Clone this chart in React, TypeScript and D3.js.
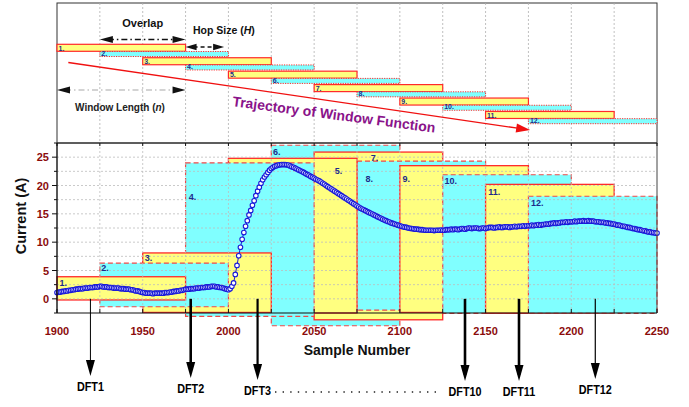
import React, { useEffect, useRef } from 'react';
import * as d3 from 'd3';

// current trace, one value per sample starting at 1900
const sampleStart = 1900;
const currentValues = [
  1.1, 1.2, 1.2, 1.3, 1.3, 1.4, 1.4, 1.5, 1.5, 1.6, 1.6, 1.7, 1.7, 1.8, 1.8, 1.8, 1.9, 1.9, 1.9, 2.0, 2.0, 2.0, 2.1, 2.1, 2.1, 2.2,
  2.2, 2.1, 2.1, 2.1, 2.0, 2.0, 2.0, 1.9, 1.9, 1.9, 1.9, 1.8, 1.8, 1.8, 1.7, 1.7, 1.7, 1.6, 1.6, 1.5, 1.4, 1.4, 1.3, 1.2, 1.1,
  1.1, 1.0, 1.0, 1.0, 1.0, 0.9, 1.0, 1.0, 1.0, 1.0, 1.0, 1.0, 1.1, 1.1, 1.1, 1.2, 1.2, 1.3, 1.3, 1.4, 1.4, 1.5, 1.5, 1.6, 1.7,
  1.7, 1.7, 1.8, 1.8, 1.8, 1.9, 1.9, 1.9, 2.0, 2.0, 2.0, 2.1, 2.1, 2.1, 2.2, 2.2, 2.2, 2.1, 2.1, 2.0, 2.0, 1.9, 1.8, 1.7, 1.6,
  1.8, 2.2, 2.8, 4.3, 5.9, 7.6, 9.1, 10.5, 11.7, 12.8, 13.8, 14.8, 15.6, 16.5, 17.3, 18.2, 19.0, 19.7, 20.4, 21.0, 21.5, 21.9, 22.3, 22.7, 23.0,
  23.2, 23.4, 23.5, 23.6, 23.65, 23.7, 23.7, 23.7, 23.65, 23.6, 23.45, 23.3, 23.2, 23.05, 22.9, 22.75, 22.6, 22.45, 22.3, 22.1, 21.95, 21.8, 21.6, 21.45, 21.3,
  21.1, 20.95, 20.8, 20.6, 20.4, 20.2, 20.0, 19.8, 19.6, 19.4, 19.2, 19.0, 18.8, 18.6, 18.4, 18.2, 18.0, 17.8, 17.6, 17.4, 17.2, 17.0, 16.8, 16.6, 16.4,
  16.2, 16.0, 15.85, 15.7, 15.55, 15.4, 15.25, 15.1, 14.95, 14.8, 14.65, 14.5, 14.35, 14.2, 14.05, 13.9, 13.8, 13.65, 13.55, 13.4, 13.3, 13.2, 13.1, 13.0, 12.9,
  12.8, 12.7, 12.65, 12.6, 12.5, 12.45, 12.4, 12.35, 12.3, 12.3, 12.25, 12.2, 12.2, 12.15, 12.1, 12.1, 12.1, 12.1, 12.1, 12.05, 12.1, 12.1, 12.1, 12.15, 12.1,
  12.1, 12.2, 12.2, 12.2, 12.3, 12.2, 12.3, 12.3, 12.2, 12.3, 12.4, 12.4, 12.3, 12.4, 12.5, 12.5, 12.4, 12.5, 12.5, 12.5, 12.4, 12.4, 12.5, 12.5, 12.4,
  12.5, 12.6, 12.6, 12.6, 12.5, 12.6, 12.6, 12.7, 12.6, 12.6, 12.7, 12.7, 12.7, 12.6, 12.7, 12.7, 12.8, 12.7, 12.8, 12.8, 12.8, 12.9, 12.8, 12.9, 12.9,
  12.9, 13.0, 12.9, 13.0, 13.0, 13.1, 13.0, 13.1, 13.1, 13.2, 13.2, 13.2, 13.3, 13.3, 13.4, 13.3, 13.4, 13.4, 13.5, 13.5, 13.5, 13.6, 13.5, 13.6, 13.6,
  13.6, 13.7, 13.6, 13.7, 13.7, 13.7, 13.8, 13.7, 13.7, 13.8, 13.7, 13.7, 13.7, 13.6, 13.6, 13.6, 13.5, 13.5, 13.5, 13.4, 13.4, 13.3, 13.3, 13.2, 13.2,
  13.1, 13.0, 13.0, 12.9, 12.8, 12.8, 12.7, 12.6, 12.6, 12.5, 12.4, 12.4, 12.3, 12.2, 12.2, 12.1, 12.0, 12.0, 11.9, 11.8, 11.8, 11.7, 11.7, 11.6, 11.6,
];

// sliding windows
const windowIds = [1, 2, 3, 4, 5, 6, 7, 8, 9, 10, 11, 12];
const windowStarts = [1900, 1925, 1950, 1975, 2000, 2025, 2050, 2075, 2100, 2125, 2150, 2175];
const windowLength = 75;
const windowTops = [3.9, 6.3, 8.1, 24.0, 24.8, 27.1, 25.9, 24.3, 23.5, 21.9, 20.2, 18.1];
const windowBottoms = [-0.2, -1.4, -2.4, -3.1, -2.5, -4.75, -3.7, -2.0, -2.4, -2.55, -2.55, -2.55];
const drawOrder = [6, 7, 8, 9, 10, 11, 12, 5, 4, 3, 2, 1];
const labelSamples = [1901.5, 1925.8, 1951.2, 1976.8, 2062, 2026, 2083, 2080, 2101.5, 2126, 2151.5, 2176.5];
const labelValues = [2.2, 4.85, 6.6, 17.4, 22.1, 25.3, 24.4, 20.7, 20.7, 20.2, 18.3, 16.3];

const xTickValues = [1900, 1950, 2000, 2050, 2100, 2150, 2200, 2250];
const yTickValues = [0, 5, 10, 15, 20, 25];

const dftNames = ['DFT1', 'DFT2', 'DFT3', 'DFT10', 'DFT11', 'DFT12'];
const dftSamples = [1919.5, 1978, 2017, 2138, 2169.5, 2214];

const FONT = '"Liberation Sans", Arial, Helvetica, sans-serif';
const YELLOW = '#ffff80';
const CYAN = '#80ffff';
const RED = '#ff2a2a';
const TICK_RED = '#8b0b0b';
const NAVY = '#1d2a8a';

const W = 689;
const H = 407;
const left = 57;
const right = 657;
const plotTop = 143;
const plotBottom = 313;
const panelTop = 3;

const App = () => {
  const svgRef = useRef(null);

  useEffect(() => {
    const svg = d3.select(svgRef.current);
    svg.selectAll('*').remove();

    const x = d3.scaleLinear().domain([1900, 2250]).range([left, right]);
    const y = d3.scaleLinear().domain([-2.5, 27.5]).range([plotBottom, plotTop]);
    const row = d3.scaleLinear().domain([1, 12]).range([44.3, 118.2]);

    const head = (g, tipX, tipY, dir, len, half, color) => {
      // dir: 'l','r','d'
      let p;
      if (dir === 'l') p = [[tipX, tipY], [tipX + len, tipY - half], [tipX + len, tipY + half]];
      else if (dir === 'r') p = [[tipX, tipY], [tipX - len, tipY - half], [tipX - len, tipY + half]];
      else p = [[tipX, tipY], [tipX - half, tipY - len], [tipX + half, tipY - len]];
      g.append('path').attr('d', d3.line()(p) + 'Z').attr('fill', color);
    };

    // ---------- top panel ----------
    const top = svg.append('g');
    top.append('rect').attr('x', left).attr('y', panelTop).attr('width', right - left).attr('height', plotTop - panelTop)
      .attr('fill', 'white').attr('stroke', '#333').attr('stroke-width', 1);

    d3.range(1925, 2250, 25).forEach(s => {
      top.append('line').attr('x1', x(s)).attr('x2', x(s)).attr('y1', panelTop).attr('y2', plotTop)
        .attr('stroke', '#b0b0b0').attr('stroke-dasharray', '2,2').attr('stroke-width', 0.8);
    });

    // trajectory arrow
    const t0 = [x(1906.6), 62.5];
    const t1 = [x(2176), 130];
    const ang = Math.atan2(t1[1] - t0[1], t1[0] - t0[0]);
    top.append('line').attr('x1', t0[0]).attr('y1', t0[1])
      .attr('x2', t1[0] - 11 * Math.cos(ang)).attr('y2', t1[1] - 11 * Math.sin(ang))
      .attr('stroke', '#f01010').attr('stroke-width', 1.3);
    top.append('path')
      .attr('d', d3.line()([[0, 0], [-14, -4.5], [-14, 4.5]]) + 'Z')
      .attr('transform', `translate(${t1[0]},${t1[1]}) rotate(${ang * 180 / Math.PI})`)
      .attr('fill', '#f01010');

    windowIds.forEach((id, i) => {
      const odd = id % 2 === 1;
      const h = odd ? 7 : 5;
      const yy = row(id) + (odd ? 0 : 0.5);
      top.append('rect').attr('x', x(windowStarts[i])).attr('y', yy)
        .attr('width', x(windowStarts[i] + windowLength) - x(windowStarts[i])).attr('height', h)
        .attr('fill', odd ? YELLOW : CYAN)
        .attr('stroke', RED).attr('stroke-width', odd ? 1.2 : 1)
        .attr('stroke-dasharray', odd ? null : '1.2,1.2');
      top.append('text').attr('x', x(windowStarts[i]) + 1.5).attr('y', yy + h - 0.8)
        .attr('font-family', FONT).attr('font-size', 7).attr('font-weight', 'bold').attr('fill', NAVY)
        .text(`${id}.`);
    });

    // overlap
    const oy = 39.5;
    top.append('line').attr('x1', x(1925) + 8).attr('x2', x(1975) - 8).attr('y1', oy).attr('y2', oy)
      .attr('stroke', '#111').attr('stroke-width', 1.3).attr('stroke-dasharray', '6,3,1.5,3');
    head(top, x(1925), oy, 'l', 13, 3.5, '#111');
    head(top, x(1975), oy, 'r', 13, 3.5, '#111');
    top.append('text').attr('x', x(1950)).attr('y', 27).attr('text-anchor', 'middle')
      .attr('font-family', FONT).attr('font-size', 11).attr('font-weight', 'bold').attr('fill', '#111').text('Overlap');

    // hop size
    const hy = 47;
    top.append('line').attr('x1', x(1975) + 8).attr('x2', x(1997.5) - 8).attr('y1', hy).attr('y2', hy)
      .attr('stroke', '#111').attr('stroke-width', 1.3).attr('stroke-dasharray', '4,3');
    head(top, x(1975), hy, 'l', 11, 3.2, '#111');
    head(top, x(1997.5), hy, 'r', 11, 3.2, '#111');
    const hop = top.append('text').attr('x', 193).attr('y', 34)
      .attr('font-family', FONT).attr('font-size', 10.5).attr('font-weight', 'bold').attr('fill', '#111');
    hop.append('tspan').text('Hop Size (');
    hop.append('tspan').attr('font-style', 'italic').text('H');
    hop.append('tspan').text(')');

    // window length
    const wy = 90;
    top.append('line').attr('x1', x(1900) + 8).attr('x2', x(1975) - 8).attr('y1', wy).attr('y2', wy)
      .attr('stroke', '#a8a8a8').attr('stroke-width', 1.2).attr('stroke-dasharray', '6,3,1.5,3');
    head(top, x(1900), wy, 'l', 13, 3.5, '#111');
    head(top, x(1975), wy, 'r', 13, 3.5, '#111');
    const wl = top.append('text').attr('x', 120).attr('y', 111).attr('text-anchor', 'middle')
      .attr('font-family', FONT).attr('font-size', 10).attr('font-weight', 'bold').attr('fill', '#222');
    wl.append('tspan').text('Window Length (');
    wl.append('tspan').attr('font-style', 'italic').text('n');
    wl.append('tspan').text(')');

    top.append('text').attr('transform', 'translate(232,106) rotate(7.5)')
      .attr('font-family', FONT).attr('font-size', 14).attr('font-weight', 'bold').attr('fill', '#8a138a')
      .text('Trajectory of Window Function');

    // ---------- bottom panel ----------
    const bot = svg.append('g');
    drawOrder.forEach(id => {
      const i = id - 1;
      const odd = id % 2 === 1;
      bot.append('rect').attr('x', x(windowStarts[i])).attr('y', y(windowTops[i]))
        .attr('width', x(windowStarts[i] + windowLength) - x(windowStarts[i]))
        .attr('height', y(windowBottoms[i]) - y(windowTops[i]))
        .attr('fill', odd ? YELLOW : CYAN)
        .attr('stroke', odd ? RED : '#f04848').attr('stroke-width', odd ? 1.3 : 1.2)
        .attr('stroke-dasharray', odd ? null : '5,3');
    });

    // grid on top of the windows
    d3.range(-2.5, 27.6, 2.5).forEach(v => {
      if (v <= -2.5 || v >= 27.5) return;
      bot.append('line').attr('x1', left).attr('x2', right).attr('y1', y(v)).attr('y2', y(v))
        .attr('stroke', '#bdbdbd').attr('stroke-dasharray', '2,2').attr('stroke-width', 0.8);
    });
    d3.range(1925, 2250, 25).forEach(s => {
      bot.append('line').attr('x1', x(s)).attr('x2', x(s)).attr('y1', plotTop).attr('y2', plotBottom)
        .attr('stroke', '#bdbdbd').attr('stroke-dasharray', '2,2').attr('stroke-width', 0.8);
    });

    windowIds.forEach((id, i) => {
      bot.append('text').attr('x', x(labelSamples[i])).attr('y', y(labelValues[i]))
        .attr('font-family', FONT).attr('font-size', 9).attr('font-weight', 'bold').attr('fill', NAVY)
        .text(`${id}.`);
    });

    // current trace
    const pts = currentValues.map((v, i) => [sampleStart + i, v]);
    bot.append('path').attr('d', d3.line().x(d => x(d[0])).y(d => y(d[1]))(pts))
      .attr('fill', 'none').attr('stroke', '#1a1ad8').attr('stroke-width', 1);
    bot.selectAll('circle.pt').data(pts).enter().append('circle')
      .attr('cx', d => x(d[0])).attr('cy', d => y(d[1])).attr('r', 2.3)
      .attr('fill', 'white').attr('stroke', '#1a1ad8').attr('stroke-width', 1.1);

    // frame and axes
    bot.append('line').attr('x1', left).attr('x2', right).attr('y1', plotTop).attr('y2', plotTop).attr('stroke', '#222');
    bot.append('line').attr('x1', right).attr('x2', right).attr('y1', plotTop).attr('y2', plotBottom).attr('stroke', '#444');
    bot.append('line').attr('x1', left).attr('x2', right).attr('y1', plotBottom).attr('y2', plotBottom).attr('stroke', '#111').attr('stroke-width', 1.2);
    bot.append('line').attr('x1', left).attr('x2', left).attr('y1', plotTop).attr('y2', plotBottom).attr('stroke', '#111').attr('stroke-width', 1.4);

    d3.range(1900, 2251, 25).forEach(s => {
      bot.append('line').attr('x1', x(s)).attr('x2', x(s)).attr('y1', plotBottom).attr('y2', plotBottom - 4).attr('stroke', '#111');
      bot.append('line').attr('x1', x(s)).attr('x2', x(s)).attr('y1', plotTop).attr('y2', plotTop + 3).attr('stroke', '#111');
    });
    d3.range(-2.5, 27.6, 2.5).forEach(v => {
      const major = Math.abs(v % 5) < 0.01;
      bot.append('line').attr('x1', left).attr('x2', left - (major ? 5 : 3)).attr('y1', y(v)).attr('y2', y(v)).attr('stroke', '#111');
    });

    xTickValues.forEach(s => {
      bot.append('text').attr('x', x(s)).attr('y', 335).attr('text-anchor', 'middle')
        .attr('font-family', FONT).attr('font-size', 11).attr('font-weight', 'bold').attr('fill', TICK_RED).text(s);
    });
    yTickValues.forEach(v => {
      bot.append('text').attr('x', 49).attr('y', y(v) + 4).attr('text-anchor', 'end')
        .attr('font-family', FONT).attr('font-size', 11).attr('font-weight', 'bold').attr('fill', TICK_RED).text(v);
    });

    bot.append('text').attr('transform', 'translate(26,216) rotate(-90)').attr('text-anchor', 'middle')
      .attr('font-family', FONT).attr('font-size', 14.5).attr('font-weight', 'bold').attr('fill', '#111').text('Current (A)');
    bot.append('text').attr('x', 357).attr('y', 355).attr('text-anchor', 'middle')
      .attr('font-family', FONT).attr('font-size', 14).attr('font-weight', 'bold').attr('fill', '#111').text('Sample Number');

    // DFT arrows
    const thick = { DFT1: 1, DFT2: 2.6, DFT3: 2.2, DFT10: 2.6, DFT11: 2.6, DFT12: 1.2 };
    const tipY = { DFT1: 384, DFT2: 386, DFT3: 388, DFT10: 389, DFT11: 389, DFT12: 387 };
    dftNames.forEach((n, i) => {
      const xx = x(dftSamples[i]);
      bot.append('line').attr('x1', xx).attr('x2', xx).attr('y1', y(0)).attr('y2', tipY[n] - 14)
        .attr('stroke', '#000').attr('stroke-width', thick[n]);
      head(bot, xx, tipY[n] - 8, 'd', 16, 4.5, '#000');
      bot.append('text').attr('x', xx).attr('y', tipY[n] + 7).attr('text-anchor', 'middle')
        .attr('font-family', FONT).attr('font-size', 12).attr('font-weight', 'bold').attr('fill', '#000')
        .attr('transform', `translate(${xx},0) scale(0.9,1) translate(${-xx},0)`).text(n);
    });
    bot.append('line').attr('x1', 275).attr('x2', 437).attr('y1', 392).attr('y2', 392)
      .attr('stroke', '#222').attr('stroke-width', 1.4).attr('stroke-dasharray', '1.4,6.2');
  }, []);

  return (
    <svg ref={svgRef} width={W} height={H} style={{ position: 'absolute', left: 0, top: 0, display: 'block', background: 'white' }} />
  );
};

export default App;
